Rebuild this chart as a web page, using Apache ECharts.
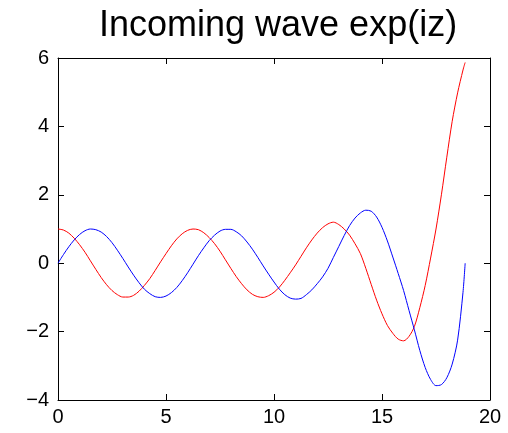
<!DOCTYPE html>
<html><head><meta charset="utf-8">
<script src="https://cdn.jsdelivr.net/npm/echarts@6/dist/echarts.min.js"></script>
<style>html,body{margin:0;padding:0;background:#fff}#c{width:508px;height:433px}</style>
</head><body><div id="c"></div>
<script>
const titleText = 'Incoming wave exp(iz)';
const z = [0,0.25,0.5,0.75,1,1.25,1.5,1.75,2,2.25,2.5,2.75,3,3.25,3.5,3.75,4,4.25,4.5,4.75,
  5,5.25,5.5,5.75,6,6.25,6.5,6.75,7,7.25,7.5,7.75,8,8.25,8.5,8.75,9,9.25,9.5,9.75,
  10,10.25,10.5,10.75,11,11.25,11.5,11.75,12,12.25,12.5,12.75,13,13.25,13.5,13.75,14,14.25,14.5,14.75,
  15,15.25,15.5,15.75,16,16.25,16.5,16.75,17,17.25,17.5,17.75,18,18.25,18.5,18.75,18.85];
const realPart = [1.00,0.97,0.88,0.73,0.54,0.32,0.07,-0.18,-0.42,-0.63,-0.80,-0.92,-0.99,-0.99,-0.94,-0.82,-0.65,-0.45,-0.21,0.04,
  0.28,0.51,0.71,0.86,0.96,1.00,0.98,0.89,0.75,0.57,0.35,0.10,-0.15,-0.39,-0.60,-0.78,-0.91,-0.98,-1.00,-0.95,
  -0.85,-0.70,-0.50,-0.28,-0.05,0.20,0.45,0.68,0.88,1.04,1.15,1.20,1.13,1.00,0.82,0.57,0.28,-0.15,-0.62,-1.08,
  -1.48,-1.82,-2.05,-2.22,-2.27,-2.14,-1.85,-1.30,-0.65,0.15,1.00,2.00,3.10,4.15,4.98,5.65,5.87];
const imagPart = [0.00,0.25,0.48,0.68,0.84,0.95,1.00,0.98,0.91,0.78,0.60,0.38,0.14,-0.11,-0.35,-0.57,-0.76,-0.89,-0.98,-1.00,
  -0.96,-0.86,-0.71,-0.51,-0.28,-0.03,0.22,0.45,0.66,0.82,0.94,0.99,0.99,0.92,0.80,0.62,0.41,0.17,-0.08,-0.32,
  -0.55,-0.76,-0.92,-1.02,-1.05,-1.03,-0.92,-0.78,-0.60,-0.40,-0.15,0.17,0.49,0.81,1.10,1.32,1.47,1.55,1.52,1.35,
  1.05,0.65,0.18,-0.30,-0.80,-1.38,-1.95,-2.55,-3.05,-3.40,-3.58,-3.55,-3.35,-2.95,-2.25,-0.85,0.00];
const xTicks = {min:0, max:20, interval:5};
const yTicks = {min:-4, max:6, interval:2};

const chart = echarts.init(document.getElementById('c'));
const font = 'Liberation Sans, Arial, Helvetica, sans-serif';
const fmt = v => String(v).replace('-', '\u2212');
function axisCommon(){ return {
  axisLine:{show:true,onZero:false,lineStyle:{color:'#000',width:1}},
  axisTick:{show:true,inside:true,length:6,lineStyle:{color:'#000'}},
  splitLine:{show:false}
};}
chart.setOption({
  animation:false,
  title:{text:titleText,left:94,top:3,
    textStyle:{fontFamily:font,fontSize:36,fontWeight:'normal',color:'#000'}},
  grid:{left:58,right:18,top:58,bottom:33},
  xAxis:[
    Object.assign({type:'value',position:'bottom',min:xTicks.min,max:xTicks.max,interval:xTicks.interval,
      axisLabel:{fontFamily:font,fontSize:20,color:'#000',margin:7,formatter:fmt}},axisCommon()),
    Object.assign({type:'value',position:'top',min:xTicks.min,max:xTicks.max,interval:xTicks.interval,
      axisLabel:{show:false}},axisCommon())
  ],
  yAxis:[
    Object.assign({type:'value',position:'left',min:yTicks.min,max:yTicks.max,interval:yTicks.interval,
      axisLabel:{fontFamily:font,fontSize:20,color:'#000',margin:9,formatter:fmt}},axisCommon()),
    Object.assign({type:'value',position:'right',min:yTicks.min,max:yTicks.max,interval:yTicks.interval,
      axisLabel:{show:false}},axisCommon())
  ],
  series:[
    {type:'line',xAxisIndex:0,yAxisIndex:0,data:z.map((x,i)=>[x,realPart[i]]),smooth:0.3,showSymbol:false,
      lineStyle:{color:'#ff0000',width:1},itemStyle:{color:'#ff0000'}},
    {type:'line',xAxisIndex:0,yAxisIndex:0,data:z.map((x,i)=>[x,imagPart[i]]),smooth:0.3,showSymbol:false,
      lineStyle:{color:'#0000ff',width:1},itemStyle:{color:'#0000ff'}}
  ]
});
</script></body></html>
